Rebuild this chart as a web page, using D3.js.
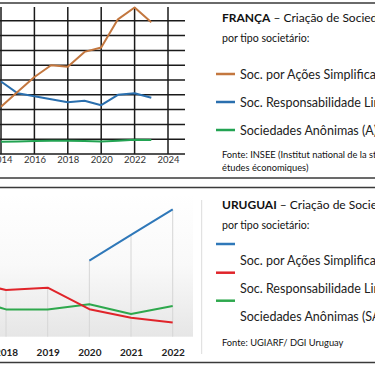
<!DOCTYPE html>
<html>
<head>
<meta charset="utf-8">
<script src="https://cdn.jsdelivr.net/npm/d3@7"></script>
<style>
body { margin: 0; background: #fff; }
svg { display: block; font-family: Lato, "Open Sans", sans-serif; }
</style>
</head>
<body>
<div class="chart"></div>
<script>
// France (INSEE) - creations per year, thousands
var frYears = [2014, 2015, 2016, 2017, 2018, 2019, 2020, 2021, 2022, 2023];
var frSAS = [32, 42, 52, 60, 59, 69, 72, 91, 99, 89];
var frSARL = [49, 41, 39, 37, 35, 36, 33, 40, 41, 38];
var frSA = [8.3, 8.5, 8.7, 8.9, 9, 8.7, 8.5, 9, 9.6, 9.5];
var frTicks = [2014, 2016, 2018, 2020, 2022, 2024];

// Uruguay (DGI) - creations per year
var uyYears = [2017, 2018, 2019, 2020, 2021, 2022];
var uySAS = [null, null, null, 3260, 4360, 5460];
var uySRL = [2420, 2000, 2100, 1180, 810, 610];
var uySA = [1700, 1170, 1170, 1390, 970, 1320];
var uyTicks = [2018, 2019, 2020, 2021, 2022];

var svgWidth = 375;
var svgHeight = 366;

var svg = d3.select(".chart")
	.append("svg")
	.attr("width", svgWidth)
	.attr("height", svgHeight);

//Panel boxes
svg.append("rect").attr("x", -5).attr("y", 3).attr("width", 390).attr("height", 175)
	.attr("fill", "none").attr("stroke", "#3a3a3a").attr("stroke-width", 1.5);
svg.append("rect").attr("x", -5).attr("y", 187.5).attr("width", 390).attr("height", 175)
	.attr("fill", "none").attr("stroke", "#3a3a3a").attr("stroke-width", 1.5);

// ---------- FRANÇA ----------
var fx = d3.scaleLinear().domain([2014, 2024]).range([1, 168]);
var fy = d3.scaleLinear().domain([0, 100]).range([154, 6]);

var frG = svg.append("g");

//horizontal gridlines (no line on top edge)
frG.selectAll(".hgrid")
	.data(d3.range(0, 91, 10))
	.enter().append("line")
	.attr("x1", -5).attr("x2", 185)
	.attr("y1", function(d) { return fy(d); })
	.attr("y2", function(d) { return fy(d); })
	.attr("stroke", "#1a1a1a").attr("stroke-width", 1.5);

//vertical gridlines
frG.selectAll(".vgrid")
	.data(frTicks)
	.enter().append("line")
	.attr("x1", function(d) { return fx(d); })
	.attr("x2", function(d) { return fx(d); })
	.attr("y1", fy(100) + 1).attr("y2", fy(0))
	.attr("stroke", "#1a1a1a").attr("stroke-width", 1.5);

var bottomAxis = d3.axisBottom(fx).tickValues(frTicks).tickFormat(d3.format("d")).tickSize(0).tickPadding(2);
frG.append("g")
	.attr("transform", "translate(0," + fy(0) + ")")
	.call(bottomAxis)
	.call(function(g) { g.select(".domain").remove(); })
	.selectAll("text")
	.attr("font-family", "Lato, sans-serif")
	.attr("font-size", 9.5)
	.attr("fill", "#333");

var frLine = d3.line()
	.defined(function(d) { return d[1] != null; })
	.x(function(d) { return fx(d[0]); })
	.y(function(d) { return fy(d[1]); });

var frSeries = [
	{values: frSA, color: "#22a352"},
	{values: frSARL, color: "#2a6fae"},
	{values: frSAS, color: "#c3773f"}
];
frSeries.forEach(function(s) {
	frG.append("path")
		.datum(frYears.map(function(y, i) { return [y, s.values[i]]; }))
		.attr("d", frLine)
		.attr("fill", "none")
		.attr("stroke", s.color)
		.attr("stroke-width", 2)
		.attr("stroke-linejoin", "round");
});

//Title + legend
var t1 = frG.append("text").attr("x", 222).attr("y", 22).attr("font-size", 12).attr("fill", "#111");
t1.append("tspan").attr("font-weight", "bold").text("FRANÇA");
t1.append("tspan").text(" – Criação de Sociedades");
frG.append("text").attr("x", 222).attr("y", 42).attr("font-size", 10.6).attr("fill", "#111")
	.text("por tipo societário:");

var frLegend = [
	{label: "Soc. por Ações Simplificada (SAS)", color: "#c3773f", y: 74},
	{label: "Soc. Responsabilidade Limitada (SARL)", color: "#2a6fae", y: 102},
	{label: "Sociedades Anônimas (A)", color: "#22a352", y: 130}
];
frLegend.forEach(function(d) {
	frG.append("line").attr("x1", 216).attr("x2", 235).attr("y1", d.y).attr("y2", d.y)
		.attr("stroke", d.color).attr("stroke-width", 2.5);
	frG.append("text").attr("x", 240).attr("y", d.y + 4.5).attr("font-size", 12.5).attr("fill", "#222")
		.text(d.label);
});
frG.append("text").attr("x", 222).attr("y", 158).attr("font-size", 9.3).attr("fill", "#111")
	.text("Fonte: INSEE (Institut national de la statistique et des");
frG.append("text").attr("x", 222).attr("y", 171).attr("font-size", 9.3).attr("fill", "#111")
	.text("études économiques)");

// ---------- URUGUAI ----------
var ux = d3.scaleLinear().domain([2018, 2022]).range([6, 172.7]);
var uy = d3.scaleLinear().domain([0, 6000]).range([336.7, 196.7]);

var uyG = svg.append("g");

//plot area background gradient
var grad = svg.append("defs").append("linearGradient")
	.attr("id", "plotbg").attr("x1", 0).attr("y1", 0).attr("x2", 0).attr("y2", 1);
grad.append("stop").attr("offset", "0%").attr("stop-color", "#ffffff");
grad.append("stop").attr("offset", "50%").attr("stop-color", "#f9f9f9");
grad.append("stop").attr("offset", "100%").attr("stop-color", "#e6e6e6");
uyG.append("rect").attr("x", -5).attr("y", 194).attr("width", 198).attr("height", 336.7 - 194)
	.attr("fill", "url(#plotbg)");

//chart area edge
uyG.append("line").attr("x1", 201.7).attr("x2", 201.7).attr("y1", 200).attr("y2", 354)
	.attr("stroke", "#dcdcdc").attr("stroke-width", 1);

//drop lines
uyG.selectAll(".drop")
	.data(uyYears)
	.enter().append("line")
	.attr("x1", function(d) { return ux(d); })
	.attr("x2", function(d) { return ux(d); })
	.attr("y1", function(d, i) { return uy(d3.max([uySAS[i], uySRL[i], uySA[i]])); })
	.attr("y2", uy(0))
	.attr("stroke", "#d6d6d6").attr("stroke-width", 1);

var uyAxis = d3.axisBottom(ux).tickValues(uyTicks).tickFormat(d3.format("d")).tickSize(0).tickPadding(12);
uyG.append("g")
	.attr("transform", "translate(0," + uy(0) + ")")
	.call(uyAxis)
	.call(function(g) { g.select(".domain").remove(); })
	.selectAll("text")
	.attr("font-family", "Lato, sans-serif")
	.attr("font-weight", "bold")
	.attr("font-size", 10)
	.attr("fill", "#222");

var uyLine = d3.line()
	.defined(function(d) { return d[1] != null; })
	.x(function(d) { return ux(d[0]); })
	.y(function(d) { return uy(d[1]); });

var uySeries = [
	{values: uySA, color: "#2ea84d"},
	{values: uySRL, color: "#e0242a"},
	{values: uySAS, color: "#2f78b9"}
];
uySeries.forEach(function(s) {
	uyG.append("path")
		.datum(uyYears.map(function(y, i) { return [y, s.values[i]]; }))
		.attr("d", uyLine)
		.attr("fill", "none")
		.attr("stroke", s.color)
		.attr("stroke-width", 2)
		.attr("stroke-linejoin", "round");
});

var t2 = uyG.append("text").attr("x", 222).attr("y", 209).attr("font-size", 12).attr("fill", "#111");
t2.append("tspan").attr("font-weight", "bold").text("URUGUAI");
t2.append("tspan").text(" – Criação de Sociedades");
uyG.append("text").attr("x", 222).attr("y", 229).attr("font-size", 10.6).attr("fill", "#111")
	.text("por tipo societário:");

var uyLegend = [
	{label: "Soc. por Ações Simplificada (SAS)", color: "#2f78b9", y: 244},
	{label: "Soc. Responsabilidade Limitada (SRL)", color: "#e0242a", y: 272.7},
	{label: "Sociedades Anônimas (SA)", color: "#2ea84d", y: 300.7}
];
uyLegend.forEach(function(d) {
	uyG.append("line").attr("x1", 216).attr("x2", 235).attr("y1", d.y).attr("y2", d.y)
		.attr("stroke", d.color).attr("stroke-width", 2.5);
	uyG.append("text").attr("x", 240).attr("y", d.y + 20.5).attr("font-size", 12.5).attr("fill", "#222")
		.text(d.label);
});
uyG.append("text").attr("x", 222).attr("y", 346).attr("font-size", 9.3).attr("fill", "#111")
	.text("Fonte: UGIARF/ DGI Uruguay");
</script>
</body>
</html>
